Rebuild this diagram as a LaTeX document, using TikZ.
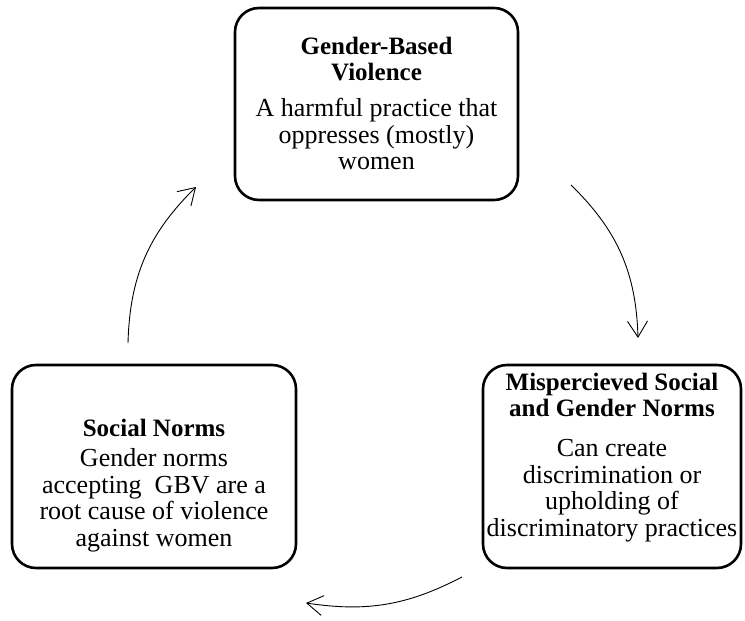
\documentclass[tikz,border=0pt]{standalone}
\usepackage{fontspec}
\setmainfont{Liberation Serif}
\usetikzlibrary{arrows.meta}
\begin{document}
\begin{tikzpicture}[x=1pt,y=1pt,
  box/.style={draw=black, line width=2.6pt, rounded corners=24pt, inner sep=0pt},
  ttl/.style={inner sep=0pt, align=center, font=\fontsize{25}{25.5}\selectfont\bfseries},
  body/.style={inner sep=0pt, align=center, font=\fontsize{26}{26.5}\selectfont},
  flow/.style={line width=0.9pt, -{Straight Barb[length=16pt,width=20pt,line width=0.9pt]}}]
\useasboundingbox (0,0) rectangle (745,621);
% boxes
\node[box, minimum width=283pt, minimum height=192pt] (gbv) at (376.5,517) {};
\node[box, minimum width=284pt, minimum height=203pt] (sn) at (154,154.5) {};
\node[box, minimum width=258pt, minimum height=203pt] (msn) at (612,154.5) {};
% texts
\node[ttl] (gbvt) at (376.5,562) {Gender-Based\\Violence};
\node[body] (gbvb) at (376.5,487) {A harmful practice that\\oppresses (mostly)\\women};
\node[ttl] (snt) at (154,193) {Social Norms};
\node[body] (snb) at (154,120.5) {Gender norms\\accepting~ GBV are a\\root cause of violence\\against women};
\node[ttl] (msnt) at (612,226) {Mispercieved Social\\and Gender Norms};
\node[body] (msnb) at (612,130.5) {Can create\\discrimination or\\upholding of\\discriminatory practices};
% arrows
\coordinate (a1s) at (128,278);
\coordinate (a1e) at (196,434);
\coordinate (a2s) at (571,436);
\coordinate (a2e) at (638,283);
\coordinate (a3s) at (462,44);
\coordinate (a3e) at (306,18);
\draw[flow] (a1s) to[bend left=22] (a1e);
\draw[flow] (a2s) to[bend left=22] (a2e);
\draw[flow] (a3s) to[bend left=18] (a3e);
\end{tikzpicture}
\end{document}
